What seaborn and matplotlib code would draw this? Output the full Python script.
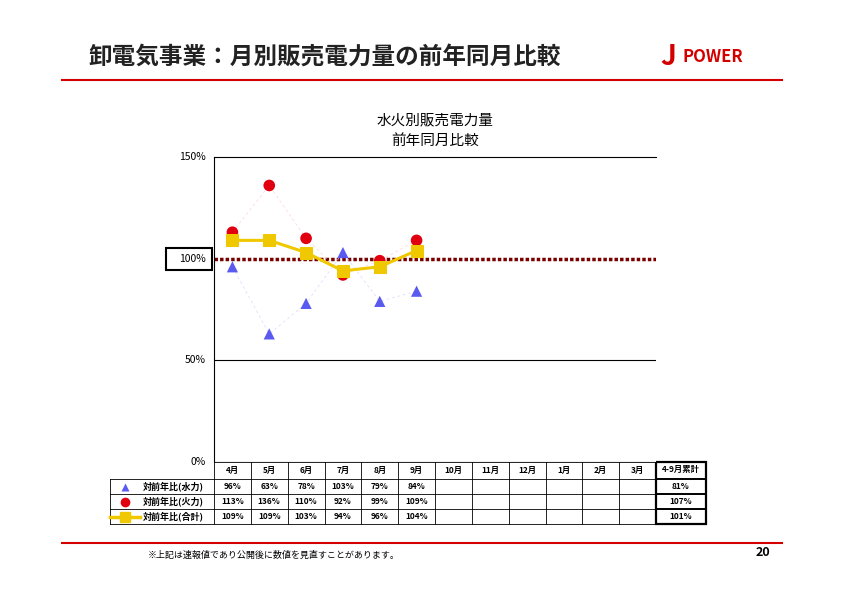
import matplotlib
matplotlib.use("Agg")
import matplotlib.pyplot as plt
import seaborn as sns
import pandas as pd

months = ["4月","5月","6月","7月","8月","9月","10月","11月","12月","1月","2月","3月"]
hydro = [96, 63, 78, 103, 79, 84]
thermal = [113, 136, 110, 92, 99, 109]
total = [109, 109, 103, 94, 96, 104]
cum_label = "4-9月累計"
cum = [81, 107, 101]
row_labels = ["対前年比(水力)", "対前年比(火力)", "対前年比(合計)"]
yticks = [0, 50, 100, 150]

plt.rcParams["font.family"] = "Noto Sans CJK JP"
fig = plt.figure(figsize=(8.42, 5.95), dpi=100)
W, H = 842, 595
bg = fig.add_axes([0, 0, 1, 1]); bg.set_xlim(0, W); bg.set_ylim(H, 0); bg.axis("off")

# header / footer
bg.text(88, 57, "卸電気事業：月別販売電力量の前年同月比較", fontsize=17, fontweight="bold", va="center", color="#222")
bg.plot([62, 782], [80, 80], color="#d40000", lw=1.5)
bg.plot([62, 782], [543, 543], color="#d40000", lw=1.5)
bg.text(660, 57, "J", fontsize=20, fontweight="bold", color="#d40000", va="center", style="italic")
bg.text(682, 57, "POWER", fontsize=12, fontweight="bold", color="#d40000", va="center", style="italic")
bg.text(148, 555, "※上記は速報値であり公開後に数値を見直すことがあります。", fontsize=6.5, va="center")
bg.text(770, 553, "20", fontsize=9, fontweight="bold", ha="right", va="center")
bg.text(435, 120, "水火別販売電力量", fontsize=10.5, ha="center", va="center")
bg.text(435, 141, "前年同月比較", fontsize=10.5, ha="center", va="center")

L, R, T, B = 214, 656, 157, 462
ax = fig.add_axes([L/W, 1-B/H, (R-L)/W, (B-T)/H])
ax.set_xlim(-0.5, 11.5); ax.set_ylim(0, 150)
for s in ["right", "bottom"]:
    ax.spines[s].set_visible(False)
ax.spines["top"].set_linewidth(0.8); ax.spines["left"].set_linewidth(0.8)
ax.set_xticks([]); ax.set_yticks([])
ax.axhline(50, color="black", lw=0.8)
ax.axhline(0, color="black", lw=0.8)
ax.axhline(100, color="#7a0000", lw=2.5, ls=(0, (1, 0.6)), zorder=2)

df = pd.DataFrame({"x": range(6), "hydro": hydro, "thermal": thermal, "total": total})
sns.lineplot(data=df, x="x", y="hydro", ax=ax, color="#d8d8ff", lw=0.5, ls=(0, (4, 4)), zorder=3)
sns.lineplot(data=df, x="x", y="thermal", ax=ax, color="#ffd0dc", lw=0.5, ls=(0, (4, 4)), zorder=3)
sns.scatterplot(data=df, x="x", y="hydro", ax=ax, marker="^", color="#5a5af0", s=65, edgecolor="none", zorder=4)
sns.scatterplot(data=df, x="x", y="thermal", ax=ax, marker="o", color="#e00010", s=70, edgecolor="none", zorder=4)
sns.lineplot(data=df, x="x", y="total", ax=ax, color="#f0c800", lw=2.2, marker="s", markersize=8,
             markeredgecolor="#f0c800", zorder=5)
ax.set_xlabel(""); ax.set_ylabel("")

for v in yticks:
    y = B - (B - T) * v / 150
    bg.text(206, y, f"{v}%", fontsize=7.5, ha="right", va="center")
y100 = B - (B - T) * 100 / 150
bg.add_patch(plt.Rectangle((166, y100 - 11), 46, 22, fill=False, lw=1.5, ec="black"))

# table
cw = (R - L) / 12
rows_y = [462, 479, 494, 509, 524]
for i in range(13):
    x = L + i * cw
    bg.plot([x, x], [462, 524], color="black", lw=0.6)
for y in rows_y:
    bg.plot([L if y == 462 else 110, R], [y, y], color="black", lw=0.6)
bg.plot([110, 110], [479, 524], color="black", lw=0.6)
for i, m in enumerate(months):
    bg.text(L + (i + .5) * cw, 470, m, fontsize=6, ha="center", va="center", fontweight="bold")
for r, vals in enumerate([hydro, thermal, total]):
    yc = (rows_y[r + 1] + rows_y[r + 2]) / 2
    for i, v in enumerate(vals):
        bg.text(L + (i + .5) * cw, yc, f"{v}%", fontsize=6, ha="center", va="center", fontweight="bold")
    bg.text(143, yc, row_labels[r], fontsize=6.5, ha="left", va="center", fontweight="bold")
    bg.text(681, yc, f"{cum[r]}%", fontsize=6, ha="center", va="center", fontweight="bold")
# cumulative column
bg.add_patch(plt.Rectangle((656, 462), 50, 62, fill=False, lw=1.6, ec="black"))
for y in [479, 494, 509]:
    bg.plot([656, 706], [y, y], color="black", lw=1.4)
bg.text(681, 469, cum_label, fontsize=6, ha="center", va="center", fontweight="bold")
# legend markers
bg.plot([125], [486.5], marker="^", color="#5a5af0", ms=6, mec="none")
bg.plot([125], [501.5], marker="o", color="#e00010", ms=7, mec="none")
bg.plot([110, 140], [516.5, 516.5], color="#f0c800", lw=2.5)
bg.plot([125], [516.5], marker="s", color="#f0c800", ms=7)

fig.savefig("out.png", dpi=100)
